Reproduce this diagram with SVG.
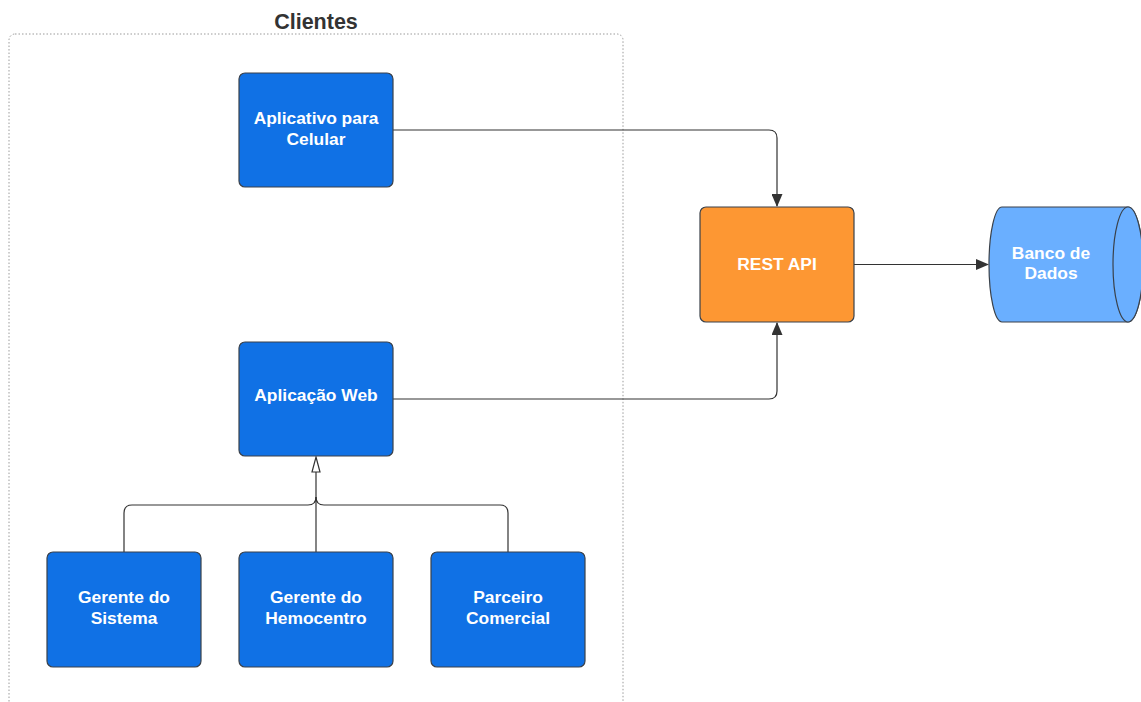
<svg xmlns="http://www.w3.org/2000/svg" width="1141" height="702" viewBox="0 0 1141 702">
<style>
.box{fill:#1071e5;stroke:#3a414a;stroke-width:1.2}
.lbl{font-family:"Liberation Sans",Arial,sans-serif;font-weight:bold;font-size:17.4px;fill:#ffffff;text-anchor:middle}
.con{fill:none;stroke:#333333;stroke-width:1.2}
</style>
<defs>
<marker id="arr" markerWidth="13" markerHeight="11" refX="12" refY="5.5" orient="auto" markerUnits="userSpaceOnUse">
<path d="M0,0 L13,5.5 L0,11 Z" fill="#333333"/>
</marker>
</defs>
<rect width="1141" height="702" fill="#ffffff"/>
<g id="clientes">
<rect x="9" y="34" width="614" height="700" rx="6" fill="none" stroke="#9a9a9a" stroke-width="1" stroke-dasharray="1.5,2"/>
<text x="316" y="29" font-family="Liberation Sans,Arial,sans-serif" font-weight="bold" font-size="21.5" fill="#333333" text-anchor="middle">Clientes</text>
</g>
<g id="connectors">
<path class="con" d="M393,130 H769 Q777,130 777,138 V206" marker-end="url(#arr)"/>
<path class="con" d="M393,399 H769 Q777,399 777,391 V323" marker-end="url(#arr)"/>
<path class="con" d="M854,264.5 H988" marker-end="url(#arr)"/>
<path class="con" d="M316,552 V472"/>
<path class="con" d="M124,552 V513 Q124,505 132,505 H308 Q316,505 316,497"/>
<path class="con" d="M508,552 V513 Q508,505 500,505 H324 Q316,505 316,497"/>
<path d="M316,457 L320,472 L312,472 Z" fill="#ffffff" stroke="#333333" stroke-width="1.2"/>
</g>
<g id="app-celular">
<rect class="box" x="239" y="73" width="154" height="114" rx="6"/>
<text class="lbl" x="316" y="124">Aplicativo para</text>
<text class="lbl" x="316" y="145">Celular</text>
</g>
<g id="app-web">
<rect class="box" x="239" y="342" width="154" height="114" rx="6"/>
<text class="lbl" x="316" y="401">Aplicação Web</text>
</g>
<g id="gerente-sistema">
<rect class="box" x="47" y="552" width="154" height="115" rx="6"/>
<text class="lbl" x="124" y="603">Gerente do</text>
<text class="lbl" x="124" y="624">Sistema</text>
</g>
<g id="gerente-hemocentro">
<rect class="box" x="239" y="552" width="154" height="115" rx="6"/>
<text class="lbl" x="316" y="603">Gerente do</text>
<text class="lbl" x="316" y="624">Hemocentro</text>
</g>
<g id="parceiro-comercial">
<rect class="box" x="431" y="552" width="154" height="115" rx="6"/>
<text class="lbl" x="508" y="603">Parceiro</text>
<text class="lbl" x="508" y="624">Comercial</text>
</g>
<g id="rest-api">
<rect x="700" y="207" width="154" height="115" rx="6" fill="#fd9733" stroke="#3a414a" stroke-width="1.2"/>
<text class="lbl" x="777" y="270">REST API</text>
</g>
<g id="banco-dados">
<path d="M1002,207 H1128 A15,57.5 0 0 1 1128,322 H1002 A13,57.5 0 0 1 1002,207 Z" fill="#6aafff" stroke="#3a414a" stroke-width="1.2"/>
<ellipse cx="1128" cy="264.5" rx="15" ry="57.5" fill="#6aafff" stroke="#3a414a" stroke-width="1.2"/>
<text class="lbl" x="1051" y="259">Banco de</text>
<text class="lbl" x="1051" y="279">Dados</text>
</g>
</svg>
